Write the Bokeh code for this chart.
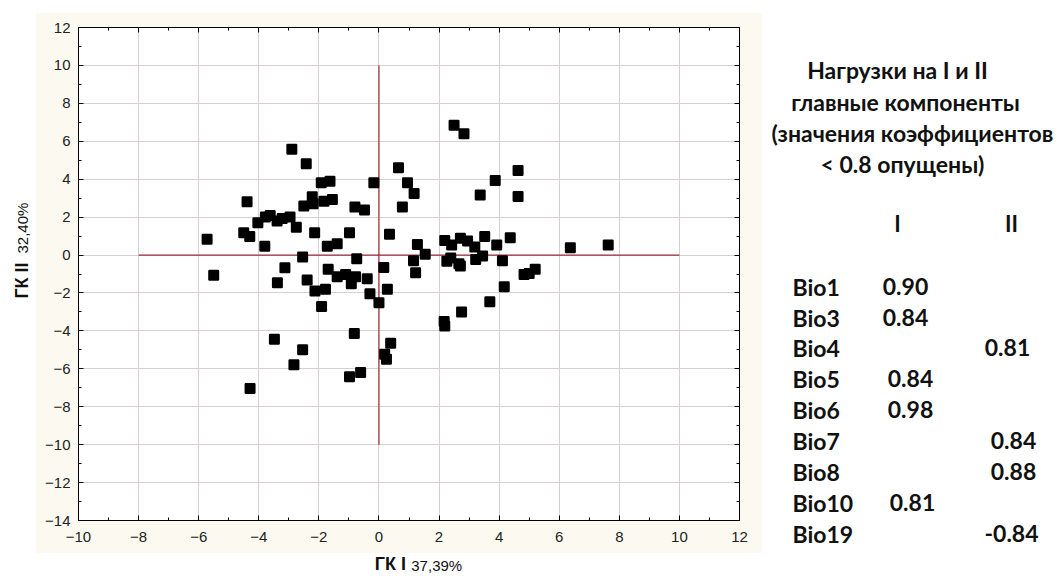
import numpy as np
from bokeh.plotting import figure
from bokeh.layouts import row, column
from bokeh.models import FixedTicker, LinearAxis, Range1d, ColumnDataSource
from bokeh.core.properties import value
from bokeh.embed import file_html
from bokeh.resources import INLINE

# ---- data: scores on principal components (ГК I, ГК II) ----
pc1 = [-2.90, -2.42, -1.92, -1.63, -0.17, -4.39, -2.22, -2.50, -2.19, -1.83,
       -1.55, -0.80, -0.48, -4.03, -3.78, -3.62, -3.39, -3.22, -2.96, -2.75,
       -4.50, -4.30, -5.72, -3.80, -2.14, -1.72, -1.39, -0.98, 0.35, -2.54,
       -0.74, -5.50, -3.13, -3.38, -2.39, -1.69, -1.39, -1.11, -0.92, -0.78,
       -0.39, 0.16, -2.13, -1.78, -0.30, 0.00, 0.28, -1.91, -3.48, -0.82,
       -2.54, -2.83, -0.98, -0.61, -4.29, 0.39, 0.19, 0.25,
       2.50, 2.83, 0.65, 0.95, 1.17, 0.78, 4.63, 3.87, 3.37, 4.63,
       1.28, 1.54, 1.15, 2.19, 2.42, 2.71, 2.95, 3.19, 3.52, 3.92,
       4.37, 3.45, 3.22, 4.11, 2.26, 2.39, 2.66, 2.71, 6.37, 7.63,
       1.22, 4.83, 5.00, 5.20, 4.17, 3.69, 2.75, 2.17, 2.19]
pc2 = [5.58, 4.81, 3.81, 3.89, 3.81, 2.81, 3.07, 2.58, 2.70, 2.84,
       2.93, 2.53, 2.38, 1.70, 2.00, 2.09, 1.79, 1.93, 2.00, 1.47,
       1.17, 0.98, 0.83, 0.47, 1.17, 0.47, 0.59, 1.17, 1.10, -0.10,
       -0.19, -1.07, -0.67, -1.46, -1.32, -0.75, -1.14, -1.02, -1.51, -1.14,
       -1.25, -0.66, -1.89, -1.81, -2.04, -2.51, -1.81, -2.72, -4.44, -4.14,
       -5.00, -5.79, -6.42, -6.19, -7.04, -4.65, -5.23, -5.49,
       6.85, 6.40, 4.60, 3.81, 3.25, 2.53, 4.46, 3.93, 3.16, 3.09,
       0.55, 0.04, -0.30, 0.77, 0.53, 0.88, 0.74, 0.42, 0.98, 0.53,
       0.91, -0.05, -0.23, -0.30, -0.33, -0.15, -0.46, -0.58, 0.38, 0.53,
       -0.93, -1.02, -0.98, -0.75, -1.67, -2.46, -3.00, -3.51, -3.74]

x_ticks = list(range(-10, 13, 2))
y_ticks = list(range(-14, 13, 2))
x_minor = list(range(-10, 13))
y_minor = list(range(-14, 13))
cross_h = [-8, 10]     # horizontal reference line extent (ГК I)
cross_v = [-10, 10]    # vertical reference line extent (ГК II)

x_title, x_pct = "ГК I", "37,39%"
y_title, y_pct = "ГК II", "32,40%"

# ---- loadings table ----
table_title = ["Нагрузки на I и II", "главные компоненты",
               "(значения коэффициентов", "< 0.8 опущены)"]
col_heads = ["I", "II"]
variables = ["Bio1", "Bio3", "Bio4", "Bio5", "Bio6", "Bio7", "Bio8", "Bio10", "Bio19"]
load_I = [0.90, 0.84, None, 0.84, 0.98, None, None, 0.81, None]
load_II = [None, None, 0.81, None, None, 0.84, 0.88, None, -0.84]

W, H = 1059, 579
CREAM = "#fcfaf0"
TICK_FONT = "Liberation Sans"
TABLE_FONT = "Lato"
INK = "#111111"

# page geometry (pixels)
CREAM_L, CREAM_R, CREAM_T, CREAM_B = 35, 762, 12, 553
FRAME_L, FRAME_R, FRAME_T, FRAME_B = 78, 739, 27, 520
LEFT_W = CREAM_L
MID_W = CREAM_R - CREAM_L
RIGHT_W = W - CREAM_R
TOP_H = CREAM_T
MID_H = CREAM_B - CREAM_T
BOT_H = H - CREAM_B


def blank(w, h, fill="white"):
    f = figure(width=w, height=h, x_range=Range1d(0, w), y_range=Range1d(0, h),
               output_backend="svg", toolbar_location=None,
               x_axis_location=None, y_axis_location=None,
               min_border=0, min_border_left=0, min_border_right=0,
               min_border_top=0, min_border_bottom=0,
               background_fill_color=fill, border_fill_color=fill,
               outline_line_color=None)
    f.grid.visible = False
    return f


def put(f, x, y_top, texts, font, size, bold=False, align="left", baseline="alphabetic", angle=0.0):
    """x, y_top in the panel's own pixels, y measured from the panel's top."""
    h = f.height
    xs = x if isinstance(x, list) else [x]
    ys = y_top if isinstance(y_top, list) else [y_top]
    ts = texts if isinstance(texts, list) else [texts]
    f.text(x=xs, y=[h - v for v in ys], text=ts, text_font=value(font), text_font_size=size,
           text_font_style="bold" if bold else "normal", text_align=align,
           text_baseline=baseline, angle=angle, text_color=INK)


# ---- main scatter plot ----
p = figure(width=MID_W, height=MID_H, x_range=Range1d(-10, 12), y_range=Range1d(-14, 12),
           output_backend="svg", toolbar_location=None,
           min_border_left=FRAME_L - CREAM_L, min_border_right=CREAM_R - FRAME_R,
           min_border_top=FRAME_T - CREAM_T, min_border_bottom=CREAM_B - FRAME_B,
           background_fill_color="white", border_fill_color=CREAM,
           outline_line_color="black", outline_line_width=1)


def style_axis(ax):
    ax.axis_line_color = "black"
    ax.major_tick_in = 5
    ax.major_tick_out = 0
    ax.minor_tick_in = 3
    ax.minor_tick_out = 0
    ax.major_tick_line_color = "black"
    ax.minor_tick_line_color = "black"
    ax.major_label_text_font = TICK_FONT
    ax.major_label_text_font_size = "15px"
    ax.major_label_text_color = "#222222"


p.xaxis.ticker = FixedTicker(ticks=x_ticks, minor_ticks=x_minor)
p.yaxis.ticker = FixedTicker(ticks=y_ticks, minor_ticks=y_minor)
style_axis(p.xaxis[0]); style_axis(p.yaxis[0])
p.xaxis.major_label_standoff = 11
p.yaxis.major_label_standoff = 8

top_ax = LinearAxis(ticker=FixedTicker(ticks=x_ticks, minor_ticks=x_minor))
right_ax = LinearAxis(ticker=FixedTicker(ticks=y_ticks, minor_ticks=y_minor))
for ax, ticks in ((top_ax, x_ticks), (right_ax, y_ticks)):
    style_axis(ax)
    ax.major_label_overrides = {t: "" for t in ticks}
    ax.major_label_standoff = 0
p.add_layout(top_ax, "above")
p.add_layout(right_ax, "right")

p.xgrid.ticker = FixedTicker(ticks=x_ticks)
p.ygrid.ticker = FixedTicker(ticks=y_ticks)
p.grid.grid_line_color = "#d6d0d2"
p.grid.grid_line_width = 1

# reference cross through the origin
p.segment(x0=[cross_h[0], 0], y0=[0, cross_v[0]], x1=[cross_h[1], 0], y1=[0, cross_v[1]],
          line_color="#9e2a3a", line_width=1.2)

src = ColumnDataSource(dict(x=pc1, y=pc2))
p.scatter("x", "y", source=src, marker="square", size=8.5, fill_color="black",
          line_color="black", line_width=2.5, line_join="round")

# ---- strips around the plot ----
top_strip = blank(MID_W, TOP_H)
bot_strip = blank(MID_W, BOT_H)
put(bot_strip, 378 - CREAM_L, 563 - CREAM_B, x_title, TICK_FONT, "18px", bold=True,
    align="center", baseline="middle")
put(bot_strip, 401 - CREAM_L, 565 - CREAM_B, x_pct, TICK_FONT, "15px", baseline="middle")

left_strip = blank(LEFT_W, H)
put(left_strip, 21, 280, y_title, TICK_FONT, "18px", bold=True, align="center",
    baseline="middle", angle=np.pi / 2)
put(left_strip, 22, 253, y_pct, TICK_FONT, "15px", align="left", baseline="middle", angle=np.pi / 2)

# ---- loadings table ----
tab = blank(RIGHT_W, H)
ox = CREAM_R
title_x = [897 - ox, 905 - ox, 912 - ox, 902 - ox]
title_y = [69, 101, 132, 163]
put(tab, title_x, title_y, table_title, TABLE_FONT, "23px", bold=True, align="center")
put(tab, [897 - ox, 1011 - ox], [223, 223], col_heads, TABLE_FONT, "22px", bold=True, align="center")

row_y = [286, 317, 347, 378, 409, 440, 471, 502, 533]
col1_x = [905, 905, 905, 910, 910, 910, 910, 912, 912]
col2_x = [1007, 1007, 1007, 1013, 1013, 1013, 1013, 1012, 1011]
put(tab, [792 - ox] * len(variables), row_y, variables, TABLE_FONT, "23px", bold=True)
c1 = [(col1_x[i] - ox, row_y[i], f"{v:.2f}") for i, v in enumerate(load_I) if v is not None]
c2 = [(col2_x[i] - ox, row_y[i], f"{v:.2f}") for i, v in enumerate(load_II) if v is not None]
put(tab, [a for a, _, _ in c1], [b for _, b, _ in c1], [t for _, _, t in c1], TABLE_FONT, "23px", bold=True, align="center")
put(tab, [a for a, _, _ in c2], [b for _, b, _ in c2], [t for _, _, t in c2], TABLE_FONT, "23px", bold=True, align="center")

layout = row(left_strip, column(top_strip, p, bot_strip, spacing=0), tab, spacing=0)

open("out.html", "w").write(file_html(layout, INLINE))
